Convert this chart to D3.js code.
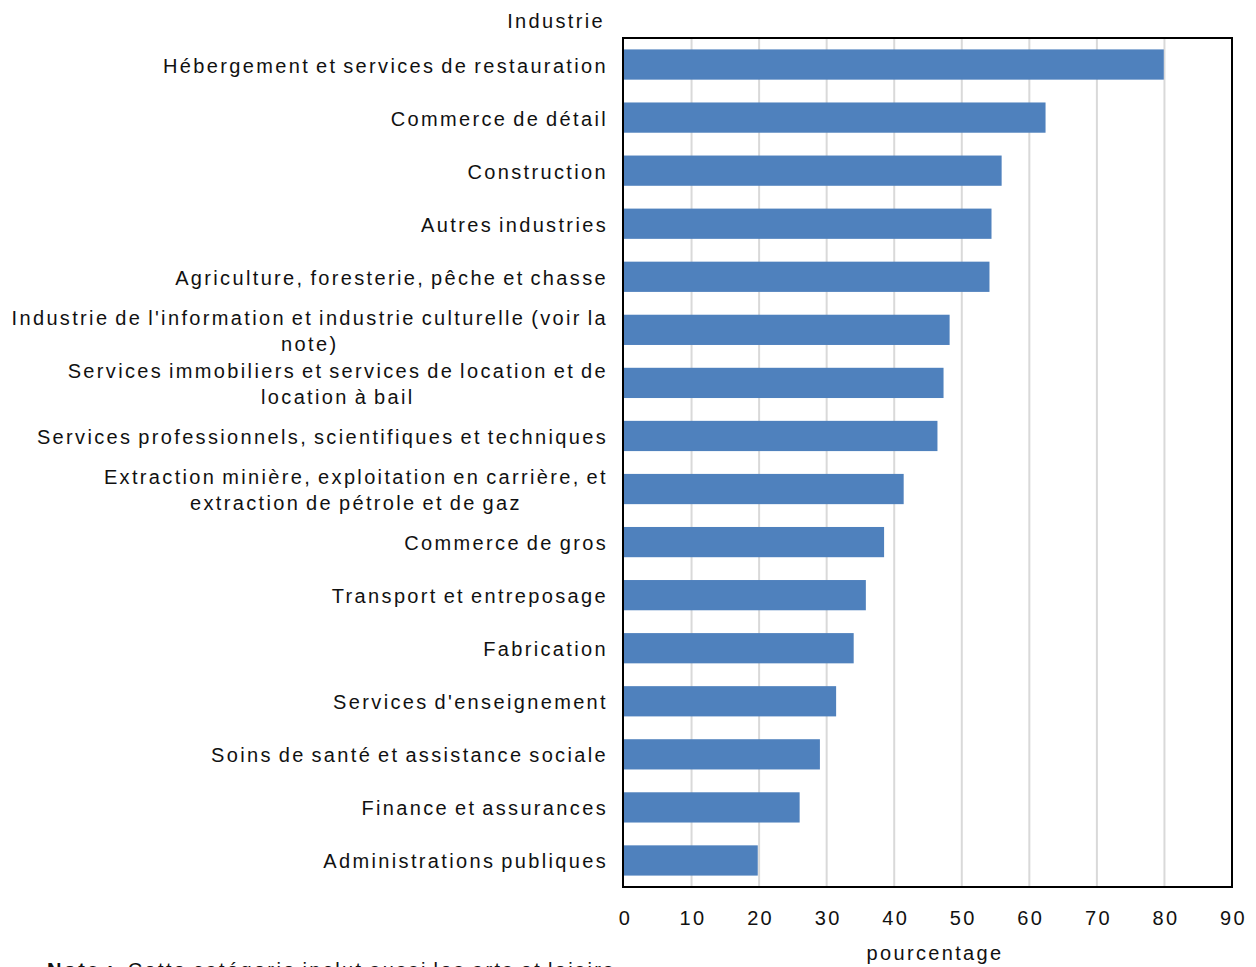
<!DOCTYPE html>
<html>
<head>
<meta charset="utf-8">
<script src="https://cdn.jsdelivr.net/npm/d3@7"></script>
<style>
  html, body { margin: 0; padding: 0; background: #ffffff; }
  svg { display: block; }
  text { font-family: "Liberation Sans", Arial, sans-serif; fill: #111; }
</style>
</head>
<body>
<svg id="chart" width="1256" height="967"></svg>
<script>
// Industries, top to bottom ("\n" marks a manual line break)
const industries = [
  "Hébergement et services de restauration",
  "Commerce de détail",
  "Construction",
  "Autres industries",
  "Agriculture, foresterie, pêche et chasse",
  "Industrie de l'information et industrie culturelle (voir la\nnote)",
  "Services immobiliers et services de location et de\nlocation à bail",
  "Services professionnels, scientifiques et techniques",
  "Extraction minière, exploitation en carrière, et\nextraction de pétrole et de gaz",
  "Commerce de gros",
  "Transport et entreposage",
  "Fabrication",
  "Services d'enseignement",
  "Soins de santé et assistance sociale",
  "Finance et assurances",
  "Administrations publiques"
];

// Percentage for each industry
const percentages = [79.9, 62.4, 55.9, 54.4, 54.1, 48.2, 47.3, 46.4, 41.4, 38.5, 35.8, 34.0, 31.4, 29.0, 26.0, 19.8];

// Axis ticks
const xTicks = [0, 10, 20, 30, 40, 50, 60, 70, 80, 90];

const axisTitleY = "Industrie";
const axisTitleX = "pourcentage";
const noteLabel = "Note :";
const noteText = "Cette catégorie inclut aussi les arts et loisirs.";

const svg = d3.select("#chart");
const plot = { left: 624, right: 1232, top: 38, bottom: 887 };
const fontSize = 20;
const spacing = "2.35px";
const wordGap = "-2px";

const x = d3.scaleLinear().domain([0, 90]).range([plot.left, plot.right]);
const y = d3.scaleBand().domain(industries).range([plot.top, plot.bottom]).paddingInner(0.43).paddingOuter(0.215);

function styleText(sel) {
  return sel
    .style("font-size", fontSize + "px")
    .style("letter-spacing", spacing)
    .style("word-spacing", wordGap)
    .style("font-family", '"Liberation Sans", Arial, sans-serif')
    .attr("fill", "#111");
}

// Vertical gridlines
svg.append("g")
  .selectAll("line")
  .data(xTicks.slice(1, -1))
  .join("line")
  .attr("x1", d => x(d)).attr("x2", d => x(d))
  .attr("y1", plot.top).attr("y2", plot.bottom)
  .attr("stroke", "#d9d9d9")
  .attr("stroke-width", 2);

// Bars
svg.append("g")
  .selectAll("rect")
  .data(industries)
  .join("rect")
  .attr("x", x(0))
  .attr("y", d => y(d))
  .attr("width", (d, i) => x(percentages[i]) - x(0))
  .attr("height", y.bandwidth())
  .attr("fill", "#4f81bd");

// Plot frame
svg.append("rect")
  .attr("x", plot.left - 1).attr("y", plot.top)
  .attr("width", plot.right - plot.left + 1).attr("height", plot.bottom - plot.top)
  .attr("fill", "none")
  .attr("stroke", "#000")
  .attr("stroke-width", 2);

// X axis tick labels
const xAxis = d3.axisBottom(x).tickValues(xTicks).tickSize(0).tickPadding(0);
const gx = svg.append("g").attr("transform", `translate(1, ${plot.bottom + 31})`).call(xAxis);
gx.select(".domain").remove();
gx.selectAll("text").attr("dy", "0.35em").call(styleText);

// Category labels: multi-line labels are centred as a block whose right edge sits at labelRight
const labelRight = 608;
const lineHeight = 26;
const labels = svg.append("g");
industries.forEach(name => {
  const lines = name.split("\n");
  const cy = y(name) + y.bandwidth() / 2 + 1;
  const t = labels.append("text").call(styleText).attr("text-anchor", "middle");
  const spans = lines.map((ln, k) => t.append("tspan")
    .attr("y", cy + (k - (lines.length - 1) / 2) * lineHeight)
    .attr("dy", "0.35em")
    .text(ln));
  const widest = d3.max(spans, s => s.node().getComputedTextLength());
  spans.forEach(s => s.attr("x", labelRight - widest / 2));
});

// Axis titles
svg.append("text")
  .attr("x", 605).attr("y", 21).attr("dy", "0.35em")
  .attr("text-anchor", "end")
  .call(styleText)
  .text(axisTitleY);

svg.append("text")
  .attr("x", 935).attr("y", 953).attr("dy", "0.35em")
  .attr("text-anchor", "middle")
  .call(styleText)
  .text(axisTitleX);

// Footnote
const note = svg.append("text")
  .attr("x", 47).attr("y", 977)
  .call(styleText);
note.append("tspan").style("font-weight", "bold").text(noteLabel);
note.append("tspan").attr("dx", 12).text(noteText);
</script>
</body>
</html>
